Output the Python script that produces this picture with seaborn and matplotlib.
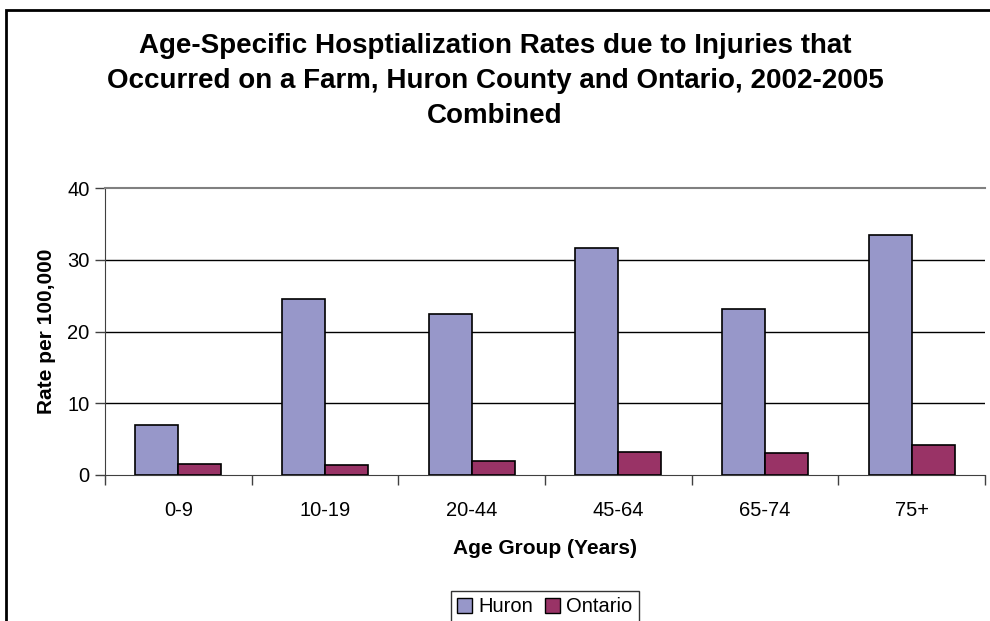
import pandas as pd
import seaborn as sns
import matplotlib.pyplot as plt
from matplotlib.patches import Rectangle, Patch

age_groups = ['0-9', '10-19', '20-44', '45-64', '65-74', '75+']
huron = [7.0, 24.5, 22.4, 31.7, 23.1, 33.5]
ontario = [1.6, 1.4, 1.9, 3.2, 3.0, 4.2]

df = pd.DataFrame({
    'Age Group': age_groups * 2,
    'Rate': huron + ontario,
    'Region': ['Huron'] * len(age_groups) + ['Ontario'] * len(age_groups),
})

sns.set_style('white')
plt.rcParams['font.family'] = ['Liberation Sans', 'DejaVu Sans']
plt.rcParams['text.color'] = 'black'
plt.rcParams['axes.labelcolor'] = 'black'
plt.rcParams['xtick.color'] = 'black'
plt.rcParams['ytick.color'] = 'black'

fig = plt.figure(figsize=(9.9, 6.21), dpi=100)
ax = fig.add_axes([105 / 990, 1 - 475 / 621, 880 / 990, 287 / 621])

sns.barplot(data=df, x='Age Group', y='Rate', hue='Region', ax=ax,
            palette={'Huron': '#9797C9', 'Ontario': '#993366'},
            width=0.585, gap=0, edgecolor='black', linewidth=1.2,
            saturation=1, legend=False, zorder=3)

ax.set_ylim(0, 40)
ax.set_xlim(-0.5, len(age_groups) - 0.5)
ax.set_yticks([0, 10, 20, 30, 40])
for y in [10, 20, 30]:
    ax.axhline(y, color='black', lw=1, zorder=1)

ax.spines['right'].set_visible(False)
ax.spines['top'].set_color('#808080')
ax.spines['top'].set_linewidth(1.5)
ax.spines['left'].set_color('#404040')
ax.spines['bottom'].set_color('#404040')

ax.tick_params(axis='y', which='major', left=True, length=7, width=1,
               color='#404040', labelsize=14.5, pad=4)
ax.tick_params(axis='x', which='major', bottom=False, labelsize=14.5, pad=15)
ax.set_xticks([i + 0.5 for i in range(-1, len(age_groups))], minor=True)
ax.tick_params(axis='x', which='minor', bottom=True, length=7, width=1,
               color='#404040')

ax.set_xlabel('Age Group (Years)', fontsize=15, fontweight='bold', labelpad=14)
ax.set_ylabel('Rate per 100,000', fontsize=15, fontweight='bold', labelpad=8)

fig.text(0.5, 1 - 81 / 621,
         'Age-Specific Hosptialization Rates due to Injuries that\n'
         'Occurred on a Farm, Huron County and Ontario, 2002-2005\n'
         'Combined',
         ha='center', va='center', fontsize=20, fontweight='bold',
         linespacing=1.45)

handles = [Patch(facecolor='#9797C9', edgecolor='black', label='Huron'),
           Patch(facecolor='#993366', edgecolor='black', label='Ontario')]
leg = fig.legend(handles=handles, loc='center', ncol=2,
                 bbox_to_anchor=(545 / 990, 1 - 607 / 621), fontsize=14.5,
                 frameon=True, fancybox=False, edgecolor='black',
                 handlelength=0.75, handleheight=0.75, handletextpad=0.3,
                 columnspacing=0.6, borderpad=0.3)
leg.get_frame().set_linewidth(1)

# outer chart border
fig.patches.append(Rectangle((6 / 990, -0.1), 1.2, 1.1 - 10 / 621,
                             transform=fig.transFigure, fill=False,
                             edgecolor='black', linewidth=2))

fig.savefig('out.png', dpi=100)
